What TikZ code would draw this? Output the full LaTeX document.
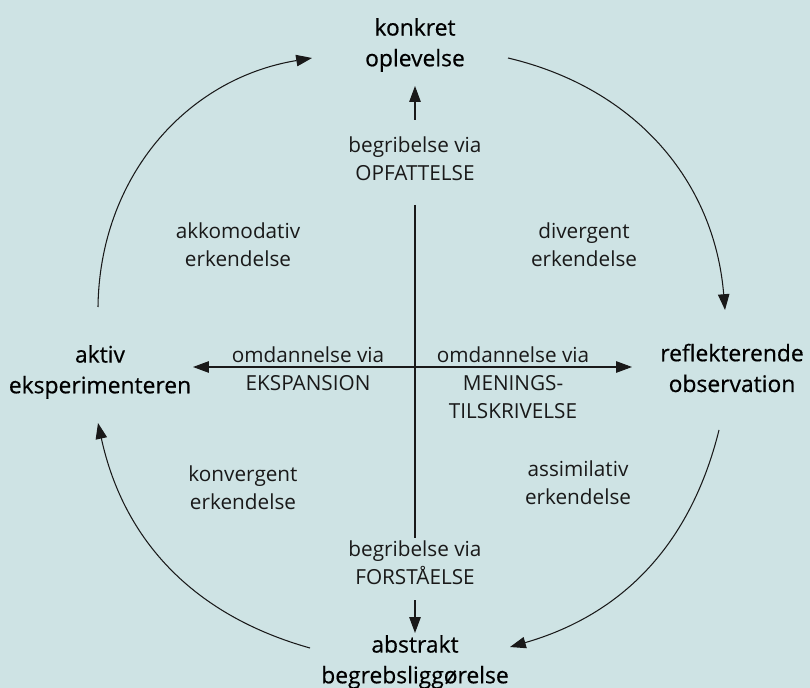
\documentclass[tikz,border=0pt]{standalone}
\usepackage{fontspec}
\setmainfont{Open Sans}
\newfontfamily\polefont[FakeBold=0.5]{Open Sans}
\usetikzlibrary{arrows.meta}
\definecolor{bg}{RGB}{206,227,228}
\definecolor{ink}{RGB}{25,25,25}
\begin{document}
\begin{tikzpicture}[x=0.02cm,y=-0.02cm,
  pole/.style={align=center,font=\polefont\fontsize{13}{17.5}\selectfont,text=black,inner sep=0pt},
  note/.style={align=center,font=\fontsize{11.8}{16}\selectfont,text=ink,inner sep=0pt},
  conn/.style={draw=ink,line width=0.6pt},
  tip/.style={-{Triangle[length=9pt,width=6.5pt]}},
]
\fill[bg] (0,0) rectangle (810,688);
\useasboundingbox (0,0) rectangle (810,688);

% the four poles of the learning cycle
\node[pole] (ko) at (415,45)  {konkret\\oplevelse};
\node[pole] (ro) at (732,368) {reflekterende\\observation};
\node[pole] (ab) at (415,662) {abstrakt\\begrebsliggørelse};
\node[pole] (ae) at (100,372) {aktiv\\eksperimenteren};

% axis labels
\node[note] (opf) at (415,159) {begribelse via\\OPFATTELSE};
\node[note] (for) at (415,563) {begribelse via\\FORSTÅELSE};
\node[note] (eks) at (308,369) {omdannelse via\\EKSPANSION};
\node[note] (men) at (513,383) {omdannelse via\\MENINGS-\\TILSKRIVELSE};

% quadrant labels
\node[note] (akk) at (238,245) {akkomodativ\\erkendelse};
\node[note] (div) at (584,245) {divergent\\erkendelse};
\node[note] (kon) at (243,488) {konvergent\\erkendelse};
\node[note] (ass) at (578,483) {assimilativ\\erkendelse};

% end points of the connectors
\coordinate (vt) at (415,205);
\coordinate (vb) at (415,538);
\coordinate (hl) at (193,367);
\coordinate (hr) at (632,367);
\coordinate (ut) at (415,120);
\coordinate (uh) at (415,86);
\coordinate (dt) at (415,600);
\coordinate (dh) at (415,633);
\coordinate (a1) at (508,58);
\coordinate (b1) at (725,310);
\coordinate (a2) at (719,430);
\coordinate (b2) at (510,647);
\coordinate (a3) at (310,648);
\coordinate (b3) at (98,423);
\coordinate (a4) at (98,307);
\coordinate (b4) at (312,58);

% axes
\draw[conn] (vt) -- (vb);
\draw[conn,{Triangle[length=9pt,width=6.5pt]}-{Triangle[length=9pt,width=6.5pt]}] (hl) -- (hr);
\draw[conn,tip] (ut) -- (uh);
\draw[conn,tip] (dt) -- (dh);

% the cycle
\draw[conn,tip] (a1) to[bend left=36] (b1);
\draw[conn,tip] (a2) to[bend left=30] (b2);
\draw[conn,tip] (a3) to[bend left=31] (b3);
\draw[conn,tip] (a4) to[bend left=40] (b4);
\end{tikzpicture}
\end{document}
